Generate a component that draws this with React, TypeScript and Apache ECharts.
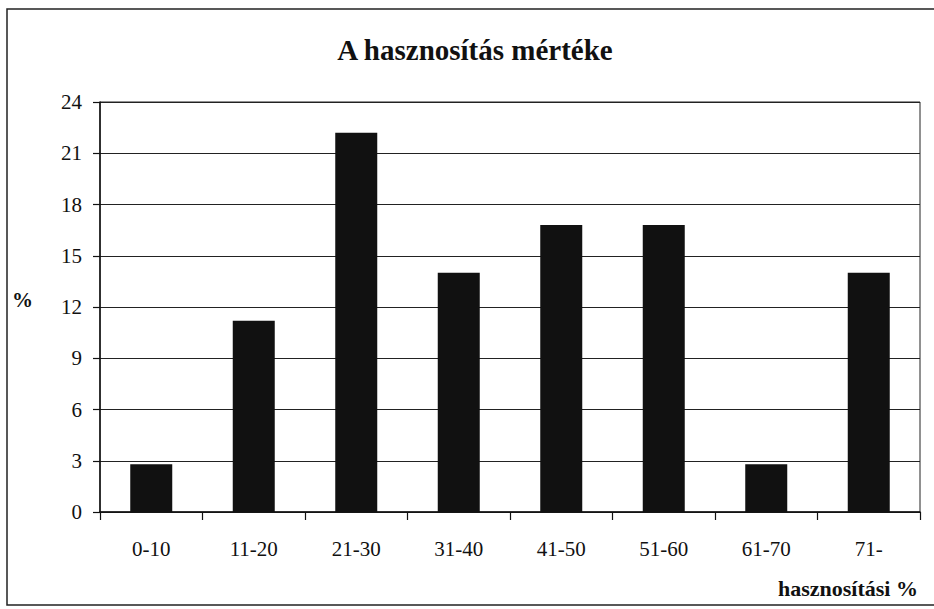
import React, { useEffect, useRef } from "react";
import * as echarts from "echarts";

const categories = ["0-10", "11-20", "21-30", "31-40", "41-50", "51-60", "61-70", "71-"];
const values = [2.8, 11.2, 22.2, 14.0, 16.8, 16.8, 2.8, 14.0];
const titleText = "A hasznosítás mértéke";
const yAxisLabel = "%";
const xAxisLabel = "hasznosítási %";
const yMin = 0;
const yMax = 24;
const yStep = 3;

const FONT = "Liberation Serif";

export default function App() {
  const ref = useRef<HTMLDivElement>(null);
  useEffect(() => {
    if (!ref.current) return;
    const chart = echarts.init(ref.current, undefined, { renderer: "svg" });
    chart.setOption({
      animation: false,
      backgroundColor: "#ffffff",
      textStyle: { fontFamily: FONT },
      grid: { left: 100, top: 102, right: 14, bottom: 97, show: true, borderColor: "#222", borderWidth: 1 },
      xAxis: {
        type: "category",
        data: categories,
        axisLine: { show: true, lineStyle: { color: "#111", width: 1.5 } },
        axisTick: { show: true, alignWithLabel: false, length: 8, lineStyle: { color: "#111", width: 1.2 } },
        axisLabel: { color: "#111", fontFamily: FONT, fontSize: 21, margin: 26 },
        splitLine: { show: false },
      },
      yAxis: {
        type: "value",
        min: yMin,
        max: yMax,
        interval: yStep,
        axisLine: { show: true, lineStyle: { color: "#111", width: 1.5 } },
        axisTick: { show: true, length: 7, lineStyle: { color: "#111", width: 1.2 } },
        axisLabel: { color: "#111", fontFamily: FONT, fontSize: 21, margin: 18 },
        splitLine: { show: true, lineStyle: { color: "#222", width: 1.2 } },
      },
      graphic: [
        {
          type: "rect",
          silent: true,
          shape: { x: 7, y: 9, width: 940, height: 596 },
          style: { fill: "none", stroke: "#222", lineWidth: 1.5 },
        },
        {
          type: "text",
          x: 475,
          y: 50,
          style: {
            text: titleText,
            fontFamily: FONT,
            fontWeight: "bold",
            fontSize: 29,
            fill: "#111",
            textAlign: "center",
            textVerticalAlign: "middle",
          },
        },
        {
          type: "text",
          x: 12,
          y: 300,
          style: {
            text: yAxisLabel,
            fontFamily: FONT,
            fontWeight: "bold",
            fontSize: 21,
            fill: "#111",
            textAlign: "left",
            textVerticalAlign: "middle",
          },
        },
        {
          type: "text",
          x: 918,
          y: 588,
          style: {
            text: xAxisLabel,
            fontFamily: FONT,
            fontWeight: "bold",
            fontSize: 22,
            fill: "#111",
            textAlign: "right",
            textVerticalAlign: "middle",
          },
        },
      ],
      series: [
        {
          type: "bar",
          data: values,
          barWidth: 42,
          itemStyle: { color: "#111" },
        },
      ],
    });
    return () => chart.dispose();
  }, []);
  return (
    <div
      ref={ref}
      style={{ position: "fixed", left: 0, top: 0, width: 934, height: 609 }}
    />
  );
}
